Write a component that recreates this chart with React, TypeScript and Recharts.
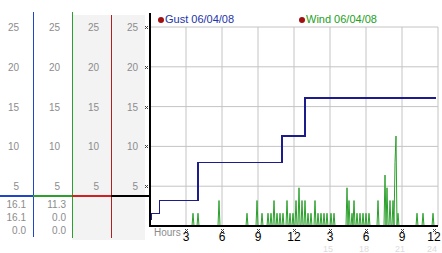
import { LineChart, Line, XAxis, YAxis, CartesianGrid } from 'recharts'

// wind speed, one reading every 5 minutes, one row per hour
const windSpeed = [
  0, 0, 0, 0, 0, 0, 0, 0, 0, 0, 0, 0,
  0, 0, 0, 0, 0, 0, 0, 0, 0, 0, 0, 0,
  0, 0, 0, 0, 0, 0, 0, 0, 0, 0, 0, 0,
  0, 0, 0, 0, 0, 0, 0, 1.6, 0, 0, 0, 0,
  1.6, 0, 0, 0, 0, 0, 0, 0, 0, 0, 0, 0,
  0, 0, 0, 0, 0, 0, 0, 0, 0, 3.2, 0, 0,
  0, 0, 0, 0, 0, 0, 0, 0, 0, 0, 0, 0,
  0, 0, 0, 0, 0, 0, 0, 0, 0, 0, 0, 0,
  0, 1.6, 0, 0, 0, 0, 0, 0, 0, 0, 0, 3.2,
  0, 0, 0, 0, 1.6, 0, 0, 0, 0, 0, 1.6, 0,
  0, 1.6, 0, 0, 3.2, 0, 0, 1.6, 0, 0, 1.6, 0,
  0, 1.6, 0, 0, 0, 3.2, 0, 0, 1.6, 0, 0, 1.6,
  0, 0, 3.2, 0, 0, 4.8, 0, 0, 3.2, 0, 0, 3.2,
  0, 0, 1.6, 0, 0, 1.6, 0, 0, 0, 3.2, 0, 0,
  1.6, 0, 0, 1.6, 0, 0, 1.6, 0, 0, 1.6, 0, 0,
  0, 1.6, 0, 0, 1.6, 0, 0, 0, 0, 0, 0, 0,
  0, 0, 0, 0, 0, 4.8, 0, 3.2, 0, 0, 1.6, 0,
  3.2, 0, 0, 1.6, 0, 0, 1.6, 0, 0, 1.6, 0, 0,
  1.6, 0, 0, 1.6, 0, 0, 0, 0, 0, 0, 0, 0,
  3.2, 0, 0, 0, 0, 0, 0, 6.4, 0, 4.8, 0, 0,
  3.2, 0, 0, 3.2, 0, 8.0, 11.3, 0, 1.6, 0, 0, 0,
  0, 0, 0, 0, 0, 0, 0, 0, 0, 0, 0, 0,
  0, 0, 0, 1.6, 0, 0, 0, 0, 0, 1.6, 0, 0,
  0, 0, 0, 0, 0, 0, 0, 1.6, 0, 0, 0, 0,
]

const gustHours = [0, 0.1, 0.8, 4.0, 11.0, 12.9, 23.8]
const gustSpeed = [0.8, 1.6, 3.2, 8.0, 11.3, 16.1, 16.1]

const speedTicks = [5, 10, 15, 20, 25]
const hourTicks = [3, 6, 9, 12, 15, 18, 21, 24]

const gustStats = ['16.1', '16.1', '0.0']
const windStats = ['11.3', '0.0', '0.0']

// right edge of each scale column's labels, measured back from the plot's left edge
const scaleColumns = [131, 90, 51, 12]

const windData = windSpeed.map((v, i) => ({ h: i / 12, wind: v }))
const gustData = gustHours.map((h, i) => ({ h, gust: gustSpeed[i] }))

const FONT = '"Liberation Sans", Arial, sans-serif'
const GREY = '#8c8c8c'

function Marker({ x, y }: { x: number; y: number }) {
  return (
    <g fill="#444" shapeRendering="crispEdges">
      <rect x={x} y={y} width={1} height={1} />
      <rect x={x + 2} y={y} width={1} height={1} />
      <rect x={x + 1} y={y + 1} width={1} height={1} />
      <rect x={x} y={y + 2} width={1} height={1} />
      <rect x={x + 2} y={y + 2} width={1} height={1} />
    </g>
  )
}

const speedTick = (p: any) => (
  <g>
    {scaleColumns.map((off, i) => (
      <text key={i} x={p.x - off} y={p.y + 4} textAnchor="end" fontSize={10} fontFamily={FONT} fill={GREY}>
        {p.payload.value}
      </text>
    ))}
    <Marker x={p.x - 5} y={Math.round(p.y) - 1} />
  </g>
)

const hourTick = (p: any) => {
  const h = p.payload.value
  return (
    <g>
      <Marker x={Math.round(p.x) - 1} y={p.y + 3} />
      <text x={p.x} y={p.y + 15} textAnchor="middle" fontSize={12} fontFamily={FONT} fill="#000">
        {h > 12 ? h - 12 : h}
      </text>
      {h > 12 && (
        <text x={p.x - 2} y={p.y + 26} textAnchor="middle" fontSize={9} fontFamily={FONT} fill="#dcdcdc">
          {h}
        </text>
      )}
    </g>
  )
}

const abs = (s: any) => ({ position: 'absolute' as const, ...s })

export default function App() {
  return (
    <div style={{ position: 'fixed', left: 0, top: 0, width: 442, height: 253, background: '#fff', fontFamily: FONT }}>
      <style>{'.gust-line path { shape-rendering: crispEdges; }'}</style>
      <div style={abs({ left: 72, top: 15, width: 73, height: 225, background: '#f3f3f3' })} />

      <div style={abs({ left: 0, top: 0 })}>
        <LineChart width={442} height={253} margin={{ top: 27, right: 4, bottom: 0, left: 0 }}>
          <CartesianGrid stroke="#c4c4c4" strokeWidth={1} />
          <XAxis dataKey="h" type="number" domain={[0, 24]} ticks={hourTicks} height={27}
            axisLine={{ stroke: '#000', strokeWidth: 2 }} tickLine={false} tickSize={0} tickMargin={0}
            tick={hourTick} allowDataOverflow />
          <YAxis domain={[0, 25]} ticks={speedTicks} width={150} axisLine={false}
            tickLine={false} tickSize={0} tickMargin={0} tick={speedTick} />
          <Line data={windData} dataKey="wind" type="linear" stroke="#2ca02c"
            strokeWidth={1} dot={false} isAnimationActive={false} />
          <Line className="gust-line" data={gustData} dataKey="gust" type="stepAfter" stroke="#1c1c8c"
            strokeWidth={1.5} dot={false} isAnimationActive={false} />
        </LineChart>
      </div>

      {/* scale columns on the left */}
      <div style={abs({ left: 33, top: 12, width: 1, height: 225, background: '#1f45c8' })} />
      <div style={abs({ left: 72, top: 12, width: 1, height: 226, background: '#2ca02c' })} />
      <div style={abs({ left: 111, top: 15, width: 1, height: 223, background: '#b02020' })} />
      <div style={abs({ left: 149, top: 13, width: 2, height: 214, background: '#000' })} />
      <div style={abs({ left: 0, top: 195, width: 33, height: 2, background: '#1f45c8' })} />
      <div style={abs({ left: 33, top: 195, width: 39, height: 2, background: '#2ca02c' })} />
      <div style={abs({ left: 72, top: 195, width: 39, height: 2, background: '#d02020' })} />
      <div style={abs({ left: 111, top: 195, width: 39, height: 2, background: '#000' })} />

      {gustStats.map((s, i) => (
        <div key={'g' + i} style={abs({ right: 442 - 26, top: 199 + i * 13, fontSize: 10, lineHeight: '12px', color: GREY })}>{s}</div>
      ))}
      {windStats.map((s, i) => (
        <div key={'w' + i} style={abs({ right: 442 - 66, top: 199 + i * 13, fontSize: 10, lineHeight: '12px', color: GREY })}>{s}</div>
      ))}

      <div style={abs({ left: 154, top: 227, fontSize: 10, lineHeight: '12px', color: GREY })}>Hours</div>

      {/* legend */}
      <div style={abs({ left: 158, top: 17, width: 6, height: 6, borderRadius: 3, background: '#a01010' })} />
      <div style={abs({ left: 165, top: 13, fontSize: 11, lineHeight: '13px', color: '#2233aa' })}>Gust 06/04/08</div>
      <div style={abs({ left: 299, top: 17, width: 6, height: 6, borderRadius: 3, background: '#a01010' })} />
      <div style={abs({ left: 306, top: 13, fontSize: 11, lineHeight: '13px', color: '#22a022' })}>Wind 06/04/08</div>
    </div>
  )
}
